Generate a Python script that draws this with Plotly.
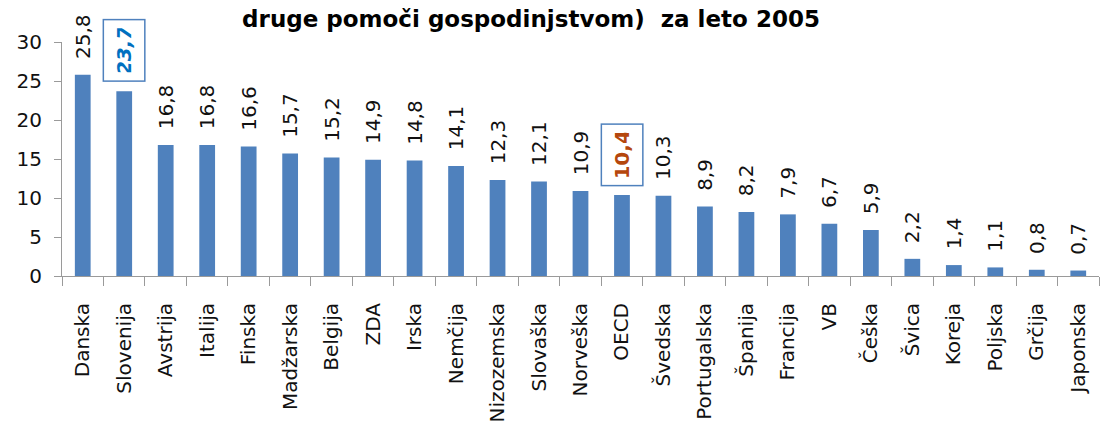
import plotly.graph_objects as go

categories = ["Danska", "Slovenija", "Avstrija", "Italija", "Finska", "Madžarska", "Belgija",
              "ZDA", "Irska", "Nemčija", "Nizozemska", "Slovaška", "Norveška", "OECD",
              "Švedska", "Portugalska", "Španija", "Francija", "VB", "Češka", "Švica",
              "Koreja", "Poljska", "Grčija", "Japonska"]
values = [25.8, 23.7, 16.8, 16.8, 16.6, 15.7, 15.2, 14.9, 14.8, 14.1, 12.3, 12.1, 10.9,
          10.4, 10.3, 8.9, 8.2, 7.9, 6.7, 5.9, 2.2, 1.4, 1.1, 0.8, 0.7]
title_text = "druge pomoči gospodinjstvom)  za leto 2005"
highlight = {"Slovenija": "#0070C0", "OECD": "#B5470D"}

FONT = "DejaVu Sans"
BAR = "#4F81BD"
AXIS = "#9A9A9A"

W, H = 1101, 430


def fmt(v):
    return f"{v:.1f}".replace(".", ",")


bar_text = ["" if c in highlight else "\u00a0\u00a0" + fmt(v) for c, v in zip(categories, values)]

fig = go.Figure()
fig.add_trace(go.Bar(x=categories, y=values, marker=dict(color=BAR, line=dict(width=0)),
                     width=0.38, hoverinfo="x+y",
                     text=bar_text, textposition="outside", textangle=-90,
                     constraintext="none", cliponaxis=False,
                     outsidetextfont=dict(family=FONT, size=20, color="#111111")))

annotations = []
for c, v in zip(categories, values):
    if c in highlight:
        label = fmt(v)
        txt = f"<b><i>{label}</i></b>" if c == "Slovenija" else f"<b>{label}</b>"
        annotations.append(dict(x=c, y=v, xref="x", yref="y", text=txt, textangle=-90,
                                showarrow=False, yanchor="bottom", xanchor="center", yshift=9,
                                width=44, height=24,
                                font=dict(family=FONT, size=20, color=highlight[c]),
                                bordercolor=BAR, borderwidth=1.5, borderpad=8, bgcolor="white"))

fig.update_layout(
    width=W, height=H,
    margin=dict(l=62, r=2, t=42, b=154, autoexpand=False),
    paper_bgcolor="white", plot_bgcolor="white",
    showlegend=False,
    title=dict(text=f"<b>{title_text}</b>", x=531 / W, xanchor="center", xref="container",
               y=1 - 19 / H, yanchor="middle", yref="container",
               font=dict(family=FONT, size=23, color="#000000")),
    annotations=annotations,
    xaxis=dict(type="category", tickangle=-90, tickson="boundaries", ticks="outside",
               ticklen=9, tickcolor=AXIS, tickwidth=1, showline=True, linecolor=AXIS,
               linewidth=1, showgrid=False, ticklabelstandoff=18,
               tickfont=dict(family=FONT, size=20, color="#111111"), range=[-0.5, 24.5]),
    yaxis=dict(range=[0, 30], dtick=5, ticks="outside", ticklen=7, tickcolor=AXIS,
               showline=True, linecolor=AXIS, linewidth=1, showgrid=False, zeroline=False,
               ticklabelstandoff=8, tickfont=dict(family=FONT, size=20, color="#111111")),
)

fig.write_html("out.html", config={"displayModeBar": False},
               post_script="document.body.style.margin='0px';")
